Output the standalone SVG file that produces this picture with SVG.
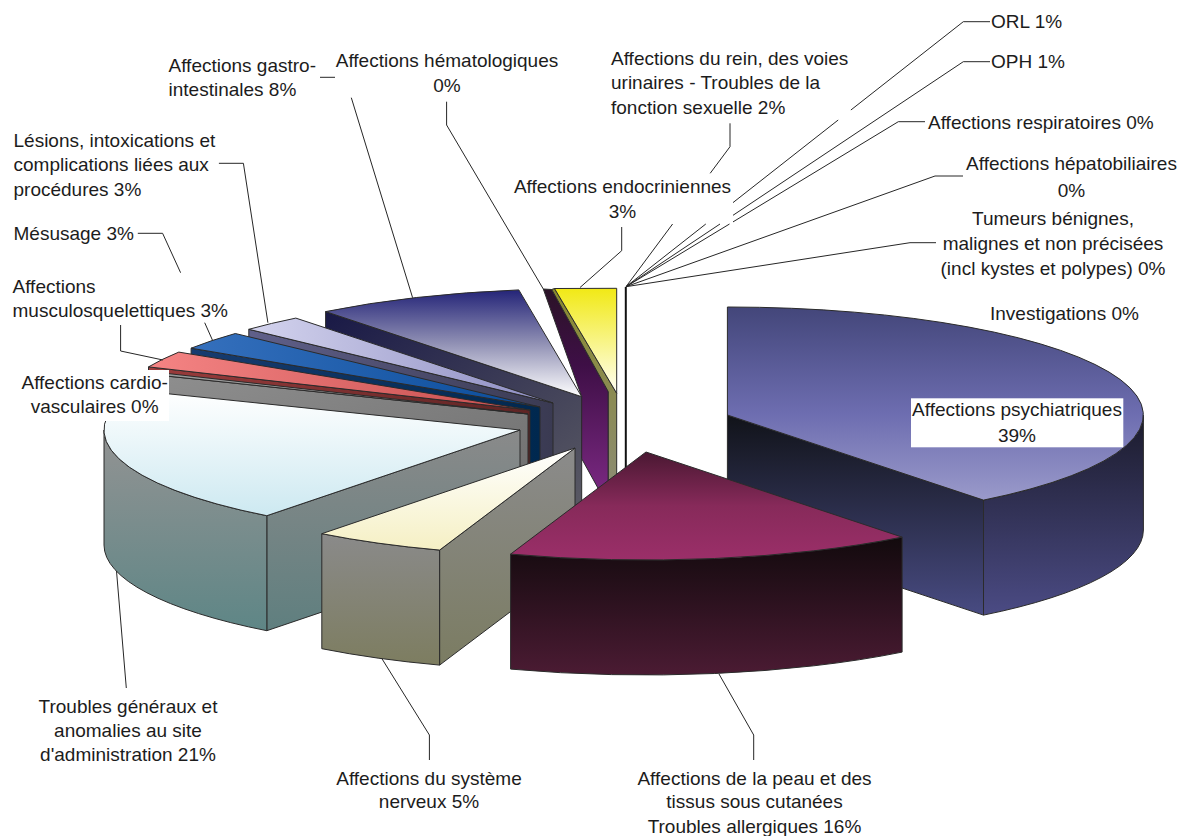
<svg xmlns="http://www.w3.org/2000/svg" width="1188" height="836" viewBox="0 0 1188 836">
<style>
.f{stroke:#2b2b2b;stroke-width:1;stroke-linejoin:round}
.ld{fill:none;stroke:#262626;stroke-width:1}
text{font-family:"Liberation Sans",Arial,sans-serif;font-size:19px;fill:#1c1c1c}
.c{text-anchor:middle}
</style>
<defs>
<linearGradient id="gPsyTop" x1="0" y1="0" x2="0" y2="1"><stop offset="0" stop-color="#43467a"/><stop offset="0.55" stop-color="#6d6db0"/><stop offset="1" stop-color="#9a9aca"/></linearGradient>
<linearGradient id="gPsyEnd" x1="0" y1="0" x2="0" y2="1"><stop offset="0" stop-color="#111319"/><stop offset="1" stop-color="#484b82"/></linearGradient>
<linearGradient id="gPsyOut" x1="0" y1="0" x2="0" y2="1"><stop offset="0" stop-color="#1b1b2c"/><stop offset="1" stop-color="#4b4b84"/></linearGradient>
<linearGradient id="gPeauTop" x1="0" y1="0" x2="0" y2="1"><stop offset="0" stop-color="#4a1832"/><stop offset="0.5" stop-color="#872a5a"/><stop offset="1" stop-color="#9b2f69"/></linearGradient>
<linearGradient id="gPeauOut" x1="0" y1="0" x2="0" y2="1"><stop offset="0" stop-color="#120a0d"/><stop offset="0.5" stop-color="#2e1220"/><stop offset="1" stop-color="#4b1b33"/></linearGradient>
<linearGradient id="gSNTop" x1="0" y1="0" x2="0" y2="1"><stop offset="0" stop-color="#ffffff"/><stop offset="1" stop-color="#f5f0c4"/></linearGradient>
<linearGradient id="gSNFace" x1="0" y1="0" x2="0" y2="1"><stop offset="0" stop-color="#8b8b8b"/><stop offset="1" stop-color="#7b7c62"/></linearGradient>
<linearGradient id="gSNOut" x1="0" y1="0" x2="0" y2="1"><stop offset="0" stop-color="#8a8a8a"/><stop offset="1" stop-color="#7d7d60"/></linearGradient>
<linearGradient id="gTGTop" x1="0" y1="0" x2="0" y2="1"><stop offset="0" stop-color="#ffffff"/><stop offset="1" stop-color="#cde9f1"/></linearGradient>
<linearGradient id="gTGFace" x1="0" y1="0" x2="0" y2="1"><stop offset="0" stop-color="#8a8a8a"/><stop offset="1" stop-color="#5f7f7f"/></linearGradient>
<linearGradient id="gTGOut" x1="0" y1="0" x2="0" y2="1"><stop offset="0" stop-color="#939393"/><stop offset="1" stop-color="#5e8686"/></linearGradient>
<linearGradient id="gNavyTop" x1="0" y1="0" x2="0" y2="1"><stop offset="0" stop-color="#242478"/><stop offset="0.5" stop-color="#9090b4"/><stop offset="1" stop-color="#ffffff"/></linearGradient>
<linearGradient id="gNavyFace" x1="0" y1="0" x2="1" y2="1"><stop offset="0" stop-color="#191946"/><stop offset="1" stop-color="#5a5a64"/></linearGradient>
<linearGradient id="gLavTop" x1="0" y1="0" x2="1" y2="0"><stop offset="0" stop-color="#d4d4ee"/><stop offset="1" stop-color="#8c8cc2"/></linearGradient>
<linearGradient id="gLavFace" x1="0" y1="0" x2="1" y2="0"><stop offset="0" stop-color="#60608a"/><stop offset="1" stop-color="#3a3a52"/></linearGradient>
<linearGradient id="gBlueTop" x1="0" y1="0" x2="1" y2="0"><stop offset="0" stop-color="#3570bd"/><stop offset="1" stop-color="#0a4c9a"/></linearGradient>
<linearGradient id="gBlueFace" x1="0" y1="0" x2="1" y2="0"><stop offset="0" stop-color="#173c70"/><stop offset="1" stop-color="#00284f"/></linearGradient>
<linearGradient id="gPinkTop" x1="0" y1="0" x2="1" y2="0"><stop offset="0" stop-color="#f58484"/><stop offset="1" stop-color="#c64e4e"/></linearGradient>
<linearGradient id="gPinkFace" x1="0" y1="0" x2="1" y2="0"><stop offset="0" stop-color="#9c3c3c"/><stop offset="1" stop-color="#5e2424"/></linearGradient>
<linearGradient id="gCardio" x1="0" y1="0" x2="1" y2="1"><stop offset="0" stop-color="#8f8f8f"/><stop offset="1" stop-color="#6c6c6c"/></linearGradient>
<linearGradient id="gPurple" x1="0" y1="0" x2="0" y2="1"><stop offset="0" stop-color="#2b1327"/><stop offset="0.35" stop-color="#3e0f46"/><stop offset="1" stop-color="#812b88"/></linearGradient>
<linearGradient id="gOlive" x1="0" y1="0" x2="0" y2="1"><stop offset="0" stop-color="#8a8a2e"/><stop offset="1" stop-color="#8c8c7a"/></linearGradient>
<linearGradient id="gYellow" x1="0" y1="0" x2="0" y2="1"><stop offset="0" stop-color="#f1e915"/><stop offset="1" stop-color="#fffff5"/></linearGradient>
</defs>
<rect width="1188" height="836" fill="#ffffff"/>

<g id="slice-gastro">
<path class="f" fill="url(#gNavyFace)" d="M325.6,311.6 L581.7,396.7 L581.7,511.7 L325.6,426.6 Z"/>
<path class="f" fill="url(#gNavyTop)" d="M581.7,396.7 L325.6,311.6 A416,108 0 0 1 518.8,289.9 Z"/>
</g>
<g id="slice-hemato">
<path class="f" fill="url(#gPurple)" d="M543.3,289 L551.7,289.5 L608.3,391.7 L608.3,506.7 L581.7,458.7 L581.7,396.7 Z"/>
</g>
<g id="slice-endocrin">
<path class="f" fill="url(#gOlive)" d="M551.7,289.5 L554.5,288.5 L616.7,393.3 L616.7,510 L608.3,506.7 L608.3,391.7 Z"/>
<path class="f" fill="url(#gYellow)" d="M554.5,288.5 L616.7,288.3 L616.7,393.3 Z"/>
</g>
<g id="slice-small">
<line x1="625.8" y1="287" x2="625.8" y2="470" stroke="#111" stroke-width="2"/>
</g>
<g id="slice-lesions">
<path class="f" fill="url(#gLavFace)" d="M248.8,329.3 L553,403 L553,518 L248.8,444.3 Z"/>
<path class="f" fill="url(#gLavTop)" d="M553,403 L248.8,329.3 A416,108 0 0 1 295.8,318.1 Z"/>
</g>
<g id="slice-mesusage">
<path class="f" fill="url(#gBlueFace)" d="M191.1,348.2 L540,407 L540,522 L191.1,463.2 Z"/>
<path class="f" fill="url(#gBlueTop)" d="M540,407 L191.1,348.2 A416,108 0 0 1 235.3,333.5 Z"/>
</g>
<g id="slice-musculo">
<path class="f" fill="url(#gPinkFace)" d="M148.5,366.9 L530,410 L530,525 L148.5,481.9 Z"/>
<path class="f" fill="url(#gPinkTop)" d="M530,410 L148.5,366.9 A416,108 0 0 1 178.8,352.1 Z"/>
</g>
<g id="slice-cardio">
<path class="f" fill="url(#gCardio)" d="M142.3,373.5 L528,414 L528,529 L142.3,488.5 Z"/>
<path class="f" fill="#999999" d="M528,414 L142.3,373.5 A416,108 0 0 1 146.2,371.1 Z"/>
</g>
<g id="slice-troubles-generaux">
<path class="f" fill="url(#gTGFace)" d="M520,430 L266.8,515.7 L266.8,630.7 L520,545 Z"/>
<path class="f" fill="url(#gTGOut)" d="M266.8,515.7 A416,108 0 0 1 104,430 L104,545 A416,108 0 0 0 266.8,630.7 Z"/>
<path class="f" fill="url(#gTGTop)" d="M520,430 L266.8,515.7 A416,108 0 0 1 133.2,390.2 Z"/>
</g>
<g id="slice-systeme-nerveux">
<path class="f" fill="url(#gSNFace)" d="M575,448 L439.6,550.1 L439.6,665.1 L575,563 Z"/>
<path class="f" fill="url(#gSNOut)" d="M439.6,550.1 A416,108 0 0 1 321.8,533.7 L321.8,648.7 A416,108 0 0 0 439.6,665.1 Z"/>
<path class="f" fill="url(#gSNTop)" d="M575,448 L439.6,550.1 A416,108 0 0 1 321.8,533.7 Z"/>
</g>
<g id="slice-psychiatriques">
<path class="f" fill="url(#gPsyEnd)" d="M727.4,415 L983.5,500.1 L983.5,615.1 L727.4,530 Z"/>
<path class="f" fill="url(#gPsyOut)" d="M1143.4,415 A416,108 0 0 1 983.5,500.1 L983.5,615.1 A416,108 0 0 0 1143.4,530 Z"/>
<path class="f" fill="url(#gPsyTop)" d="M727.4,415 L727.4,307 A416,108 0 0 1 983.5,500.1 Z"/>
</g>
<g id="slice-peau">
<path class="f" fill="url(#gPeauOut)" d="M902.1,537.1 A416,108 0 0 1 510.6,554.1 L510.6,669.1 A416,108 0 0 0 902.1,652.1 Z"/>
<path class="f" fill="url(#gPeauTop)" d="M646,452 L902.1,537.1 A416,108 0 0 1 510.6,554.1 Z"/>
</g>

<g id="connectors">
<polyline class="ld" points="990,21.7 963.3,21.7 850.9,110"/>
<line class="ld" x1="838.2" y1="120" x2="733" y2="202.6"/>
<line class="ld" x1="705.8" y1="224" x2="626" y2="286.7"/>
<polyline class="ld" points="990,61.7 963.3,61.7 733,215.3"/>
<line class="ld" x1="720" y1="224" x2="626" y2="286.7"/>
<polyline class="ld" points="925,121.7 898.3,121.7 733,221.9"/>
<line class="ld" x1="729.5" y1="224" x2="626" y2="286.7"/>
<polyline class="ld" points="963,176 935,176 626,286.7"/>
<polyline class="ld" points="936,242.7 910,242.7 626,286.7"/>
<polyline class="ld" points="730,123.3 730,146.7 710.2,173.3"/>
<line class="ld" x1="672.6" y1="224" x2="626" y2="286.7"/>
<polyline class="ld" points="621.7,227 621.7,250.7 580,287.5"/>
<polyline class="ld" points="446.6,101.7 446.6,125 543.3,289"/>
<line class="ld" x1="320" y1="77.3" x2="335" y2="77.3"/>
<line class="ld" x1="351.3" y1="97.7" x2="412.6" y2="297.7"/>
<polyline class="ld" points="218.9,163.3 243.4,163.3 267.9,322.7"/>
<polyline class="ld" points="137.8,233.3 162.6,233.3 180.6,272.7"/>
<line class="ld" x1="204.7" y1="322.7" x2="212.4" y2="340"/>
<polyline class="ld" points="120.6,325 120.6,351 163,360"/>
<line class="ld" x1="116.5" y1="571" x2="126.3" y2="688"/>
<polyline class="ld" points="381.7,658.3 429.4,735 429.4,760"/>
<polyline class="ld" points="719,674 753.7,735 753.7,760"/>
</g>

<g id="labels">
<g id="lbl-orl"><text x="991" y="28.2">ORL 1%</text></g>
<g id="lbl-oph"><text x="991" y="68.2">OPH 1%</text></g>
<g id="lbl-rein"><text x="611" y="64.8">Affections du rein, des voies</text><text x="611" y="89.2">urinaires - Troubles de la</text><text x="611" y="113.8">fonction sexuelle 2%</text></g>
<g id="lbl-resp"><text x="928" y="129.2">Affections respiratoires 0%</text></g>
<g id="lbl-hepato"><text class="c" x="1071.5" y="169.8">Affections hépatobiliaires</text><text class="c" x="1071.5" y="196.5">0%</text></g>
<g id="lbl-tumeurs"><text class="c" x="1053" y="224.8">Tumeurs bénignes,</text><text class="c" x="1053" y="249.8">malignes et non précisées</text><text class="c" x="1053" y="274.8">(incl kystes et polypes) 0%</text></g>
<g id="lbl-investigations"><text x="990" y="319.8">Investigations 0%</text></g>
<g id="lbl-endocrin"><text class="c" x="622.5" y="193.2">Affections endocriniennes</text><text class="c" x="622.5" y="218.2">3%</text></g>
<g id="lbl-hemato"><text class="c" x="447" y="66.5">Affections hématologiques</text><text class="c" x="447" y="91.5">0%</text></g>
<g id="lbl-gastro"><text x="168.5" y="71.5">Affections gastro-</text><text x="168.5" y="95.8">intestinales 8%</text></g>
<g id="lbl-lesions"><text x="13.5" y="146.5">Lésions, intoxications et</text><text x="13.5" y="170.5">complications liées aux</text><text x="13.5" y="195.5">procédures 3%</text></g>
<g id="lbl-mesusage"><text x="13.5" y="239.8">Mésusage 3%</text></g>
<g id="lbl-musculo"><text x="12.5" y="292.5">Affections</text><text x="12.5" y="316.5">musculosquelettiques 3%</text></g>
<g id="lbl-cardio"><rect x="17" y="370" width="152" height="51" fill="#ffffff"/><text class="c" x="94.7" y="389.2">Affections cardio-</text><text class="c" x="94.7" y="413.2">vasculaires 0%</text></g>
<g id="lbl-psy"><rect x="911" y="398.3" width="212.3" height="49" fill="#ffffff"/><text class="c" x="1017" y="415.8">Affections psychiatriques</text><text class="c" x="1017" y="441.5">39%</text></g>
<g id="lbl-tg"><text class="c" x="128" y="713.2">Troubles généraux et</text><text class="c" x="128" y="737.2">anomalies au site</text><text class="c" x="128" y="760.8">d'administration 21%</text></g>
<g id="lbl-sn"><text class="c" x="429" y="784.8">Affections du système</text><text class="c" x="429" y="808.2">nerveux 5%</text></g>
<g id="lbl-peau"><text class="c" x="754.5" y="784.8">Affections de la peau et des</text><text class="c" x="754.5" y="808.2">tissus sous cutanées</text><text class="c" x="754.5" y="833.2">Troubles allergiques 16%</text></g>
</g>
</svg>
